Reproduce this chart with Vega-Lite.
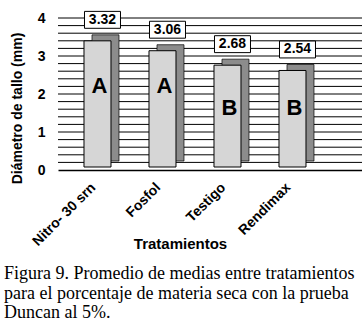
{
  "$schema": "https://vega.github.io/schema/vega-lite/v6.json",
  "width": 304,
  "height": 152,
  "autosize": {"type": "none"},
  "padding": {"left": 58, "top": 18, "right": 0, "bottom": 160},
  "background": "white",
  "config": {
    "view": {"stroke": null},
    "font": "Liberation Sans",
    "axisY": {
      "titleFont": "Liberation Sans",
      "titleFontSize": 14,
      "titleFontWeight": "bold",
      "titleColor": "black",
      "titleAngle": -90,
      "titleX": -41,
      "titleY": 90,
      "titleAlign": "center",
      "titleBaseline": "middle",
      "tickCount": 4,
      "labelOverlap": false,
      "labelFont": "Liberation Sans",
      "labelFontSize": 14,
      "labelFontWeight": "bold",
      "labelColor": "black",
      "labelPadding": 13,
      "ticks": false,
      "domain": false,
      "grid": false
    }
  },
  "title": {
    "text": ["Figura 9. Promedio de medias entre tratamientos", "para el porcentaje de materia seca con la prueba", "Duncan al 5%."],
    "orient": "bottom",
    "anchor": "start",
    "frame": "group",
    "dx": -54,
    "offset": 14,
    "font": "Liberation Serif",
    "fontSize": 18,
    "fontWeight": "normal",
    "lineHeight": 19.5,
    "color": "black"
  },
  "data": {
    "values": [
      {"tratamiento": "Nitro- 30 srn", "valor": 3.32, "etiqueta": "3.32", "letra": "A"},
      {"tratamiento": "Fosfol", "valor": 3.06, "etiqueta": "3.06", "letra": "A"},
      {"tratamiento": "Testigo", "valor": 2.68, "etiqueta": "2.68", "letra": "B"},
      {"tratamiento": "Rendimax", "valor": 2.54, "etiqueta": "2.54", "letra": "B"}
    ]
  },
  "encoding": {
    "x": {
      "field": "tratamiento",
      "type": "nominal",
      "sort": null,
      "scale": {"paddingInner": 0.5846, "paddingOuter": 0.6308, "align": 0.317},
      "axis": {
        "title": "Tratamientos",
        "titleFont": "Liberation Sans",
        "titleFontSize": 15,
        "titleFontWeight": "bold",
        "titleColor": "black",
        "titleX": 122,
        "titleY": 73,
        "titleAlign": "center",
        "titleBaseline": "middle",
        "labelAngle": -45,
        "labelAlign": "right",
        "labelBaseline": "middle",
        "labelFont": "Liberation Sans",
        "labelFontSize": 14,
        "labelFontWeight": "bold",
        "labelColor": "black",
        "labelPadding": 15,
        "labelOffset": -4,
        "ticks": false,
        "domain": true,
        "domainColor": "black",
        "domainWidth": 1.5,
        "grid": false
      }
    }
  },
  "layer": [
    {
      "mark": {"type": "rule", "color": "black", "strokeWidth": 1},
      "data": {"values": [
        {"g": 0.2}, {"g": 0.4}, {"g": 0.6}, {"g": 0.8}, {"g": 1.0},
        {"g": 1.2}, {"g": 1.4}, {"g": 1.6}, {"g": 1.8}, {"g": 2.0},
        {"g": 2.2}, {"g": 2.4}, {"g": 2.6}, {"g": 2.8}, {"g": 3.0},
        {"g": 3.2}, {"g": 3.4}, {"g": 3.6}, {"g": 3.8}, {"g": 4.0}
      ]},
      "encoding": {
        "x": null,
        "y": {"field": "g", "type": "quantitative", "scale": {"domain": [0, 4]}, "title": "Diámetro de tallo (mm)"}
      }
    },
    {
      "mark": {"type": "bar", "color": "#8c8c8c", "stroke": "black", "strokeWidth": 0.7, "xOffset": 8, "yOffset": -9, "y2Offset": -10},
      "encoding": {"y": {"field": "valor", "type": "quantitative", "scale": {"domain": [0, 4]}, "title": "Diámetro de tallo (mm)"}}
    },
    {
      "mark": {"type": "bar", "color": "#d6d6d6", "stroke": "black", "strokeWidth": 1, "yOffset": -3, "y2Offset": -5},
      "encoding": {"y": {"field": "valor", "type": "quantitative", "scale": {"domain": [0, 4]}, "title": "Diámetro de tallo (mm)"}}
    },
    {
      "mark": {"type": "point", "shape": "M-1,-0.47H1V0.47H-1Z", "size": 1296, "filled": true, "fill": "white", "stroke": "black", "strokeWidth": 1, "opacity": 1, "xOffset": 5, "yOffset": -24},
      "encoding": {"y": {"field": "valor", "type": "quantitative", "scale": {"domain": [0, 4]}, "title": "Diámetro de tallo (mm)"}}
    },
    {
      "mark": {"type": "text", "font": "Liberation Sans", "fontSize": 14, "fontWeight": "bold", "color": "black", "xOffset": 5, "yOffset": -24, "baseline": "middle", "align": "center"},
      "encoding": {"y": {"field": "valor", "type": "quantitative", "scale": {"domain": [0, 4]}, "title": "Diámetro de tallo (mm)"}, "text": {"field": "etiqueta"}}
    },
    {
      "transform": [{"filter": "datum.letra == 'A'"}],
      "mark": {"type": "text", "font": "Liberation Sans", "fontSize": 22, "fontWeight": "bold", "color": "black", "xOffset": 2, "baseline": "middle", "align": "center"},
      "encoding": {"y": {"datum": 2.2, "title": "Diámetro de tallo (mm)"}, "text": {"field": "letra"}}
    },
    {
      "transform": [{"filter": "datum.letra == 'B'"}],
      "mark": {"type": "text", "font": "Liberation Sans", "fontSize": 22, "fontWeight": "bold", "color": "black", "xOffset": 2, "baseline": "middle", "align": "center"},
      "encoding": {"y": {"datum": 1.63, "title": "Diámetro de tallo (mm)"}, "text": {"field": "letra"}}
    }
  ]
}
